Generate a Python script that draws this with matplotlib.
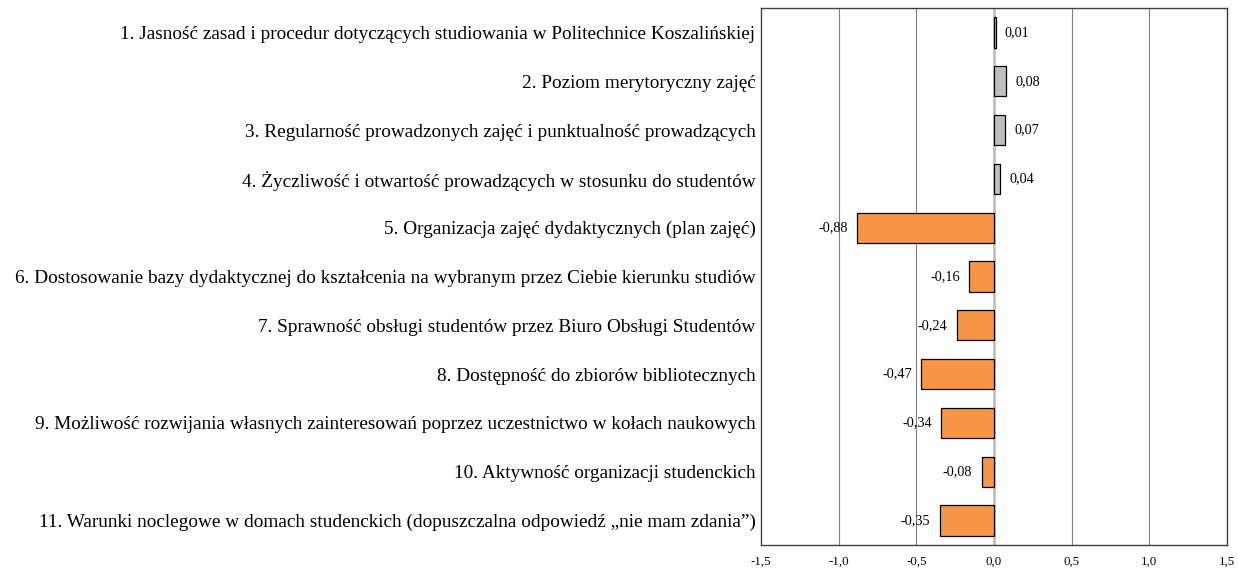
import matplotlib
matplotlib.use("Agg")
import matplotlib.pyplot as plt
import numpy as np

categories = [
    "1. Jasność zasad i procedur dotyczących studiowania w Politechnice Koszalińskiej",
    "2. Poziom merytoryczny zajęć",
    "3. Regularność prowadzonych zajęć i punktualność prowadzących",
    "4. Życzliwość i otwartość prowadzących w stosunku do studentów",
    "5. Organizacja zajęć dydaktycznych (plan zajęć)",
    "6. Dostosowanie bazy dydaktycznej do kształcenia na wybranym przez Ciebie kierunku studiów",
    "7. Sprawność obsługi studentów przez Biuro Obsługi Studentów",
    "8. Dostępność do zbiorów bibliotecznych",
    "9. Możliwość rozwijania własnych zainteresowań poprzez uczestnictwo w kołach naukowych",
    "10. Aktywność organizacji studenckich",
    "11. Warunki noclegowe w domach studenckich (dopuszczalna odpowiedź \u201enie mam zdania\u201d)",
]
values = [0.01, 0.08, 0.07, 0.04, -0.88, -0.16, -0.24, -0.47, -0.34, -0.08, -0.35]
xticks = [-1.5, -1.0, -0.5, 0.0, 0.5, 1.0, 1.5]

plt.rcParams["font.family"] = ["Liberation Serif", "DejaVu Serif"]

fig = plt.figure(figsize=(12.38, 5.70), dpi=100)
ax = fig.add_axes([761 / 1238, 1 - 545 / 570, (1227 - 761) / 1238, (545 - 8) / 570])

y = np.arange(len(values))
colors = ["#BFBFBF" if v >= 0 else "#F79646" for v in values]
ax.barh(y, values, height=0.62, color=colors, edgecolor="black", linewidth=0.9, zorder=3)

# value labels: right of positive bars, left of negative ones
for yi, v in zip(y, values):
    txt = f"{v:.2f}".replace(".", ",")
    if v >= 0:
        ax.text(v + 0.06, yi, txt, va="center", ha="left", fontsize=10.3, zorder=4)
    else:
        ax.text(v - 0.06, yi, txt, va="center", ha="right", fontsize=10.3, zorder=4)

ax.set_xlim(-1.5, 1.5)
ax.set_ylim(len(values) - 0.5, -0.5)
ax.set_xticks(xticks)
ax.set_xticklabels([f"{t:.1f}".replace(".", ",") for t in xticks], fontsize=9.4)
ax.set_yticks(y)
ax.set_yticklabels(categories, fontsize=13.9)
ax.tick_params(axis="y", length=0, pad=4)
ax.tick_params(axis="x", length=0, pad=8)

for t in xticks[1:-1]:
    if t == 0:
        ax.axvline(t, color="#C0C0C0", lw=2.0, zorder=2)
    else:
        ax.axvline(t, color="#808080", lw=0.8, zorder=1)

for s in ax.spines.values():
    s.set_color("#404040")
    s.set_linewidth(1.0)

fig.savefig("out.png", dpi=100)
